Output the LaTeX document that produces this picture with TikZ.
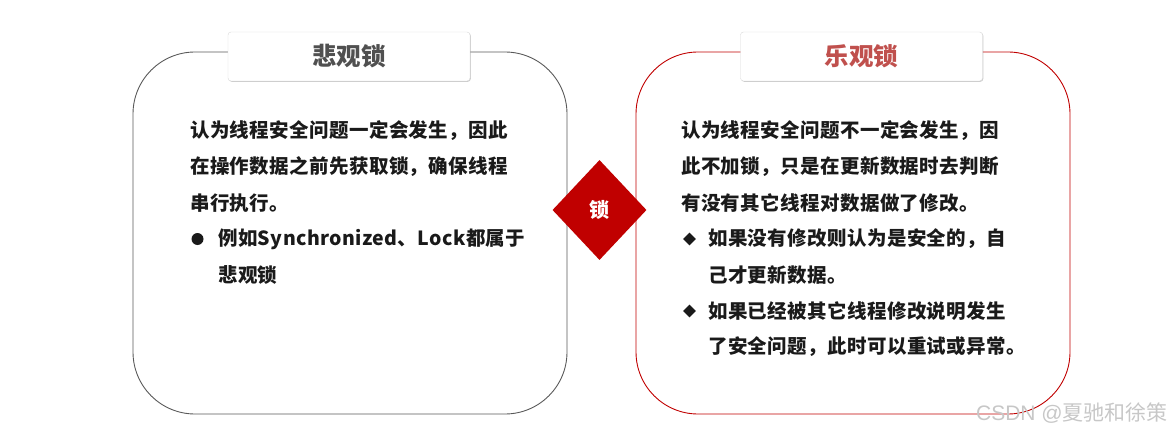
\documentclass[tikz,border=0pt]{standalone}
\usepackage{fontspec}
\setmainfont{Noto Sans CJK SC}
\newfontfamily\wmfont{Liberation Sans}
\usetikzlibrary{shapes.geometric,shadows}
\definecolor{lockred}{HTML}{C00000}
\definecolor{titlered}{HTML}{C0504D}
\definecolor{titlegray}{HTML}{505050}
\definecolor{bordergray}{HTML}{595959}
\definecolor{bodytext}{HTML}{1A1A1A}
\tikzset{
  panel/.style={rounded corners=62pt, line width=0.9pt},
  titlebox/.style={draw=white!85!black, fill=white, rounded corners=3pt, minimum width=242pt, minimum height=49pt,
     drop shadow={opacity=0.4, shadow xshift=0.8pt, shadow yshift=-0.8pt}},
  titletext/.style={font=\fontsize{24.5}{28}\selectfont\bfseries},
  bodyline/.style={anchor=west, inner sep=0pt, text=bodytext, font=\fontsize{19.5}{22}\selectfont\bfseries\addfontfeatures{LetterSpace=2}},
  bulletdot/.style={circle, fill=bodytext, inner sep=0pt, minimum size=12pt},
  bulletdiam/.style={diamond, fill=bodytext, inner sep=0pt, minimum width=13pt, minimum height=13pt},
  bigdiam/.style={diamond, fill=lockred, inner sep=0pt, minimum width=94pt, minimum height=100pt, text=white, font=\fontsize{20}{22}\selectfont\bfseries},
  watermark/.style={anchor=east, text=black!22, inner sep=0pt, font=\fontsize{21}{24}\selectfont}
}
\begin{document}
\begin{tikzpicture}[x=1pt,y=-1pt]
\useasboundingbox (0,0) rectangle (1173,433);
% panels
\draw[panel, draw=bordergray] (133,52) rectangle (567,414);
\draw[panel, draw=lockred] (636,52) rectangle (1070,414);
% title boxes
\node[titlebox] (tl) at (349,56.5) {};
\node[titletext, text=titlegray] (tlt) at (tl.center) {悲观锁};
\node[titlebox] (tr) at (861.5,56.5) {};
\node[titletext, text=titlered] (trt) at (tr.center) {乐观锁};
% central diamond
\node[bigdiam] (lock) at (599.5,210) {锁};
% left text
\node[bodyline] (l1) at (190,131) {认为线程安全问题一定会发生，因此};
\node[bodyline] (l2) at (190,167) {在操作数据之前先获取锁，确保线程};
\node[bodyline] (l3) at (190,203) {串行执行。};
\node[bulletdot] (lb1) at (197.5,239) {};
\node[bodyline] (l4) at (218,239) {例如Synchronized、Lock都属于};
\node[bodyline] (l5) at (218,275) {悲观锁};
% right text
\node[bodyline] (r1) at (681,131) {认为线程安全问题不一定会发生，因};
\node[bodyline] (r2) at (681,167) {此不加锁，只是在更新数据时去判断};
\node[bodyline] (r3) at (681,203) {有没有其它线程对数据做了修改。};
\node[bulletdiam] (rb1) at (689.5,239) {};
\node[bodyline] (r4) at (708,239) {如果没有修改则认为是安全的，自};
\node[bodyline] (r5) at (708,275) {己才更新数据。};
\node[bulletdiam] (rb2) at (689.5,311) {};
\node[bodyline] (r6) at (708,311) {如果已经被其它线程修改说明发生};
\node[bodyline] (r7) at (708,347) {了安全问题，此时可以重试或异常。};
% watermark
\node[watermark] (wm) at (1168,413) {{\wmfont CSDN @}夏驰和徐策};
\end{tikzpicture}
\end{document}
